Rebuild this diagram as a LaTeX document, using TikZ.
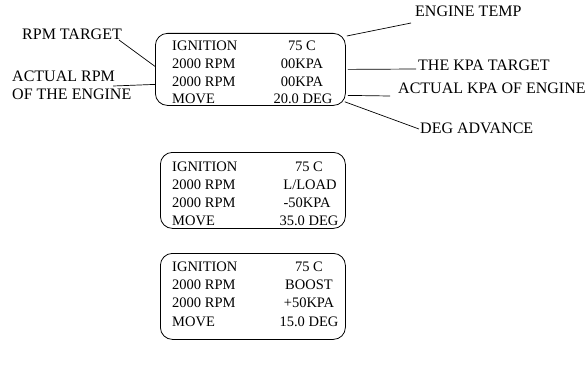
\documentclass[tikz,border=0pt]{standalone}
\usepackage{fontspec}
\setmainfont{Liberation Serif}
\begin{document}
\begin{tikzpicture}[x=1pt,y=-1pt,font=\fontsize{14.5}{17}\selectfont,
  panel/.style={draw,rounded corners=12pt,line width=0.8pt,minimum width=190pt,minimum height=72pt,anchor=north west,inner sep=0pt},
  lbl/.style={inner sep=0pt,anchor=base west},
  val/.style={inner sep=0pt,anchor=base},
  note/.style={inner sep=0pt,anchor=base west,font=\fontsize{16}{18}\selectfont},
  lead/.style={line width=0.7pt}]
\useasboundingbox (0,0) rectangle (585,369);

% panels
\node[panel] (box1) at (155,33) {};
\node[panel,minimum width=185pt,minimum height=76pt] (box2) at (160,152) {};
\node[panel,minimum width=185pt,minimum height=86pt] (box3) at (160,253) {};

% box 1 rows
\node[lbl] (a1) at (172,50) {IGNITION};
\node[lbl] (a2) at (172,68) {2000 RPM};
\node[lbl] (a3) at (172,86) {2000 RPM};
\node[lbl] (a4) at (172,103) {MOVE};
\node[val] (v1) at (302,50) {75 C};
\node[val] (v2) at (302,68) {00KPA};
\node[val] (v3) at (302,86) {00KPA};
\node[val] (v4) at (303,103) {20.0 DEG};

% box 2 rows
\node[lbl] (b1) at (172,171) {IGNITION};
\node[lbl] (b2) at (172,189) {2000 RPM};
\node[lbl] (b3) at (172,207) {2000 RPM};
\node[lbl] (b4) at (172,225) {MOVE};
\node[val] (w1) at (309,171) {75 C};
\node[val] (w2) at (310,189) {L/LOAD};
\node[val] (w3) at (307,207) {-50KPA};
\node[val] (w4) at (309,225) {35.0 DEG};

% box 3 rows
\node[lbl] (c1) at (172,271) {IGNITION};
\node[lbl] (c2) at (172,289) {2000 RPM};
\node[lbl] (c3) at (172,307) {2000 RPM};
\node[lbl] (c4) at (172,326) {MOVE};
\node[val] (u1) at (309,271) {75 C};
\node[val] (u2) at (309,289) {BOOST};
\node[val] (u3) at (309,307) {+50KPA};
\node[val] (u4) at (309,326) {15.0 DEG};

% annotations
\node[note] (rpmt) at (22,40) {RPM TARGET};
\node[note] (act1) at (12,81) {ACTUAL RPM};
\node[note] (act2) at (12,99) {OF THE ENGINE};
\node[note] (etemp) at (415,17) {ENGINE TEMP};
\node[note] (kpat) at (418,70) {THE KPA TARGET};
\node[note] (kpaa) at (398,93) {ACTUAL KPA OF ENGINE};
\node[note] (deg) at (420,133) {DEG ADVANCE};

% leader lines
\draw[lead] ([xshift=-3pt]rpmt.base east) -- ([yshift=3pt]box1.west);
\draw[lead] ([xshift=-2pt,yshift=-5pt]act1.base east) -- ([yshift=-15pt]box1.west);
\draw[lead] ([xshift=-4pt,yshift=-6pt]etemp.base west) -- ([xshift=1pt,yshift=-3pt]box1.north east);
\draw[lead] ([xshift=2pt]box1.east) -- ([xshift=-2pt,yshift=1pt]kpat.base west);
\draw[lead] ([xshift=2pt,yshift=-26pt]box1.east) -- ([xshift=-8pt,yshift=-3pt]kpaa.base west);
\draw[lead] ([xshift=-1pt,yshift=4pt]box1.south east) -- ([xshift=-1pt,yshift=4pt]deg.base west);
\end{tikzpicture}
\end{document}
